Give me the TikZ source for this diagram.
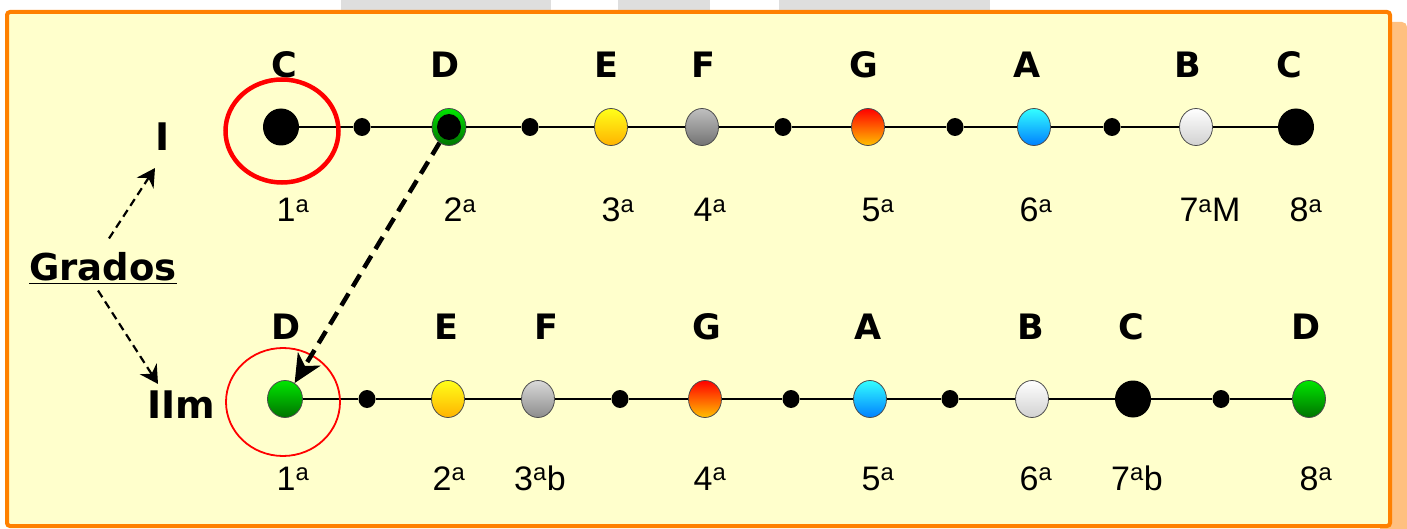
\documentclass[tikz,border=0pt]{standalone}
\usepackage{fontspec}
\setmainfont{Liberation Sans}
\newfontfamily\heavyfont{DejaVu Sans}
\usetikzlibrary{shapes.geometric}
\usetikzlibrary{arrows.meta}
\usepackage{xcolor}
\definecolor{paper}{HTML}{FFFFCC}
\definecolor{boxorange}{HTML}{FF8000}
\definecolor{shadeorange}{HTML}{FFC080}
\tikzset{
	note/.style={ellipse, inner sep=0pt, minimum width=33pt, minimum height=37pt, draw=black!70, line width=0.8pt},
	dotnote/.style={ellipse, inner sep=0pt, minimum width=17pt, minimum height=18pt, fill=black},
	bignote/.style={ellipse, inner sep=0pt, minimum width=36pt, minimum height=37pt, fill=black},
	yellownote/.style={note, top color=yellow!90!white, bottom color=orange!60!yellow},
	greynote/.style={note, top color=black!25, bottom color=black!55},
	lightgreynote/.style={note, top color=black!15, bottom color=black!45},
	rednote/.style={note, top color=red, middle color=orange!90!red, bottom color=orange!50!yellow},
	bluenote/.style={note, top color=cyan!80!white, bottom color=blue!50!cyan},
	whitenote/.style={note, top color=white, bottom color=black!18},
	greennote/.style={note, top color=green!90!black, bottom color=green!45!black},
	letter/.style={font=\heavyfont\bfseries\fontsize{35}{38}\selectfont, anchor=base, inner sep=0pt},
	degree/.style={font=\fontsize{34}{40}\selectfont, anchor=base, inner sep=0pt},
	chord/.style={font=\heavyfont\bfseries\fontsize{38}{42}\selectfont, inner sep=0pt},
	thinarrow/.style={dash pattern=on 8pt off 5pt, line width=2.2pt, -{Stealth[length=18pt, width=20pt, inset=6pt]}},
	bigarrow/.style={dash pattern=on 14pt off 8pt, line width=4.5pt, -{Stealth[length=28pt, width=26pt, inset=8pt]}},
	staff/.style={line width=2.2pt}
}
\begin{document}
\begin{tikzpicture}[x=1pt, y=-1pt]
				% Frame and background:
				\useasboundingbox (0,0) rectangle (1407,529);
				\fill[black!13] (341,0) rectangle (551,10);
				\fill[black!13] (618,0) rectangle (710,10);
				\fill[black!13] (779,0) rectangle (990,10);
				\fill[shadeorange, rounded corners=5pt] (1380,22) rectangle (1407,545);
				\draw[draw=boxorange, fill=paper, line width=4pt, rounded corners=3pt] (7,12) rectangle (1390,526);
				% Upper row, I:
				\node[bignote](T1) at (281, 127){};
				\node[dotnote](T2) at (362, 127){};
				\node[greennote, minimum width=34pt](T3) at (449, 127){};
				\node[ellipse, fill=black, inner sep=0pt, minimum width=24pt, minimum height=26pt](T3c) at (T3){};
				\node[dotnote](T4) at (530, 127){};
				\node[yellownote](T5) at (611, 127){};
				\node[greynote](T6) at (702, 127){};
				\node[dotnote](T7) at (783, 127){};
				\node[rednote](T8) at (868, 127){};
				\node[dotnote](T9) at (955, 127){};
				\node[bluenote](T10) at (1034, 127){};
				\node[dotnote](T11) at (1112, 127){};
				\node[whitenote](T12) at (1196, 127){};
				\node[bignote](T13) at (1296, 127){};
				\draw[staff] (T1) -- (T2) -- (T3) -- (T4) -- (T5) -- (T6) -- (T7) -- (T8) -- (T9) -- (T10) -- (T11) -- (T12) -- (T13);
				\node[letter] at (284, 78){C};
				\node[letter] at (445, 78){D};
				\node[letter] at (606, 78){E};
				\node[letter] at (703, 78){F};
				\node[letter] at (864, 78){G};
				\node[letter] at (1027, 78){A};
				\node[letter] at (1188, 78){B};
				\node[letter] at (1289, 78){C};
				\node[degree] at (293, 222){1\textsuperscript{a}};
				\node[degree] at (460, 222){2\textsuperscript{a}};
				\node[degree] at (618, 222){3\textsuperscript{a}};
				\node[degree] at (710, 222){4\textsuperscript{a}};
				\node[degree] at (878, 222){5\textsuperscript{a}};
				\node[degree] at (1036, 222){6\textsuperscript{a}};
				\node[degree] at (1210, 222){7\textsuperscript{a}M};
				\node[degree] at (1306, 222){8\textsuperscript{a}};
				% Lower row, IIm:
				\node[greennote, minimum width=35pt](B1) at (285, 399){};
				\node[dotnote](B2) at (367, 399){};
				\node[yellownote](B3) at (448, 399){};
				\node[lightgreynote](B4) at (538, 399){};
				\node[dotnote](B5) at (620, 399){};
				\node[rednote](B6) at (705, 399){};
				\node[dotnote](B7) at (791, 399){};
				\node[bluenote](B8) at (870, 399){};
				\node[dotnote](B9) at (950, 399){};
				\node[whitenote](B10) at (1032, 399){};
				\node[bignote](B11) at (1133, 399){};
				\node[dotnote](B12) at (1221, 399){};
				\node[greennote](B13) at (1309, 399){};
				\draw[staff] (B1) -- (B2) -- (B3) -- (B4) -- (B5) -- (B6) -- (B7) -- (B8) -- (B9) -- (B10) -- (B11) -- (B12) -- (B13);
				\node[letter] at (286, 339){D};
				\node[letter] at (446, 339){E};
				\node[letter] at (546, 339){F};
				\node[letter] at (707, 339){G};
				\node[letter] at (868, 339){A};
				\node[letter] at (1031, 339){B};
				\node[letter] at (1131, 339){C};
				\node[letter] at (1306, 339){D};
				\node[degree] at (293, 490){1\textsuperscript{a}};
				\node[degree] at (449, 490){2\textsuperscript{a}};
				\node[degree] at (540, 490){3\textsuperscript{a}b};
				\node[degree] at (710, 490){4\textsuperscript{a}};
				\node[degree] at (878, 490){5\textsuperscript{a}};
				\node[degree] at (1036, 490){6\textsuperscript{a}};
				\node[degree] at (1137, 490){7\textsuperscript{a}b};
				\node[degree] at (1316, 490){8\textsuperscript{a}};
				% Circles, labels and arrows:
				\node[ellipse, draw=red, line width=4.5pt, minimum width=113pt, minimum height=103pt](R1) at (282, 131){};
				\node[ellipse, draw=red, line width=1.8pt, minimum width=114pt, minimum height=108pt](R2) at (283, 402){};
				\node[chord](I) at (163, 137){I};
				\node[chord](IIm) at (181, 405){IIm};
				\node[chord, font=\heavyfont\bfseries\fontsize{37}{42}\selectfont](GR) at (103, 268){\underline{Grados}};
				\draw[thinarrow] ([xshift=6pt, yshift=14pt]GR.north) -- ([xshift=-8pt, yshift=-17pt]I.south);
				\draw[thinarrow] ([xshift=-5pt, yshift=-7pt]GR.south) -- ([xshift=-23pt, yshift=7pt]IIm.north);
				\draw[bigarrow] (T3) -- (B1);
			\end{tikzpicture}
\end{document}
